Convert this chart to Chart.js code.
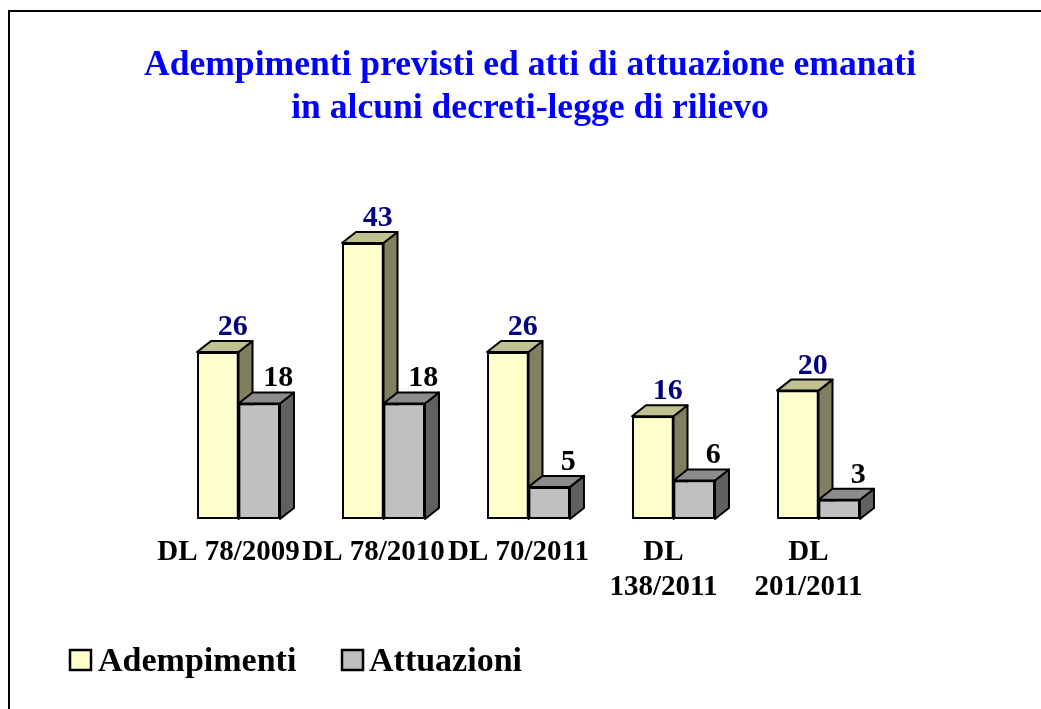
<!DOCTYPE html>
<html><head><meta charset="utf-8">
<script src="https://cdn.jsdelivr.net/npm/chart.js@4/dist/chart.umd.min.js"></script>
<style>html,body{margin:0;padding:0;background:#fff}#w{position:relative;width:1041px;height:709px}</style>
</head><body><div id="w"><canvas id="c" width="1041" height="709"></canvas></div>
<script>
const categories = [["DL 78/2009"],["DL 78/2010"],["DL 70/2011"],["DL","138/2011"],["DL","201/2011"]];
const adempimenti = [26,43,26,16,20];
const attuazioni = [18,18,5,6,3];
const titleLines = ["Adempimenti previsti ed atti di attuazione emanati","in alcuni decreti-legge di rilievo"];
const FONT = '"Liberation Serif"';
const faces = [{side:'#808060',top:'#c0c090',label:'#000080',dx:15},{side:'#606060',top:'#8c8c8c',label:'#000000',dx:19}];
const legendBoxes = [{box:70,text:98},{box:342,text:369}];
const DX=14, DY=11;

const bars3d = {
  id:'bars3d',
  afterLayout(chart){
    chart.titleBlock.left=60; chart.titleBlock.right=1000;
  },
  beforeDraw(chart){
    const c=chart.ctx; c.save(); c.strokeStyle='#000'; c.lineWidth=2;
    c.beginPath(); c.moveTo(9,709); c.lineTo(9,11); c.lineTo(1041,11); c.stroke(); c.restore();
  },
  beforeDatasetsDraw(chart){
    const c=chart.ctx; c.save(); c.strokeStyle='#000'; c.lineWidth=2; c.lineJoin='round';
    [0,1].forEach(i=>{
      chart.getDatasetMeta(i).data.forEach(b=>{
        const l=b.x-b.width/2, r=b.x+b.width/2, t=b.y, B=b.base;
        c.fillStyle=faces[i].side; c.beginPath();
        c.moveTo(r,t); c.lineTo(r+DX,t-DY); c.lineTo(r+DX,B-DY); c.lineTo(r,B); c.closePath(); c.fill(); c.stroke();
        c.fillStyle=faces[i].top; c.beginPath();
        c.moveTo(l,t); c.lineTo(l+DX,t-DY); c.lineTo(r+DX,t-DY); c.lineTo(r,t); c.closePath(); c.fill(); c.stroke();
      });
    });
    c.restore();
  },
  afterDatasetsDraw(chart){
    const c=chart.ctx; c.save(); c.textAlign='center'; c.textBaseline='alphabetic';
    c.font='bold 30px '+FONT;
    [0,1].forEach(i=>{
      const meta=chart.getDatasetMeta(i);
      meta.data.forEach((b,j)=>{
        c.fillStyle=faces[i].label;
        c.fillText(String(chart.data.datasets[i].data[j]), b.x+faces[i].dx, b.y-DY-6);
      });
    });
    c.restore();
  },
  afterDraw(chart){
    const c=chart.ctx; c.save(); c.textBaseline='alphabetic'; c.textAlign='left';
    c.font='bold 34px '+FONT;
    chart.data.datasets.forEach((d,i)=>{
      const p=legendBoxes[i];
      c.fillStyle=d.backgroundColor; c.strokeStyle='#000'; c.lineWidth=2.5;
      c.fillRect(p.box,650,21,20); c.strokeRect(p.box,650,21,20);
      c.fillStyle='#000'; c.fillText(d.label,p.text,671);
    });
    c.restore();
  }
};

new Chart(document.getElementById('c'),{
  type:'bar',
  data:{labels:categories,datasets:[
    {label:'Adempimenti',data:adempimenti,backgroundColor:'#ffffcc',borderColor:'#000',borderWidth:2,borderSkipped:false},
    {label:'Attuazioni',data:attuazioni,backgroundColor:'#c0c0c0',borderColor:'#000',borderWidth:2,borderSkipped:false}
  ]},
  plugins:[bars3d],
  options:{
    responsive:false,animation:false,
    layout:{padding:{left:166,right:150,top:44,bottom:96}},
    datasets:{bar:{categoryPercentage:0.572,barPercentage:1}},
    plugins:{
      legend:{display:false},tooltip:{enabled:false},
      title:{display:true,text:titleLines,color:'#0000ff',font:{family:FONT,weight:'bold',size:35.6,lineHeight:1.208},padding:{top:0,bottom:68}}
    },
    scales:{
      x:{grid:{display:false},border:{display:false},
        ticks:{autoSkip:false,maxRotation:0,minRotation:0,labelOffset:-10,padding:8,color:'#000',font:{family:FONT,weight:'bold',size:29,lineHeight:1.207}}},
      y:{display:false,min:0,max:50}
    }
  }
});
</script></body></html>
